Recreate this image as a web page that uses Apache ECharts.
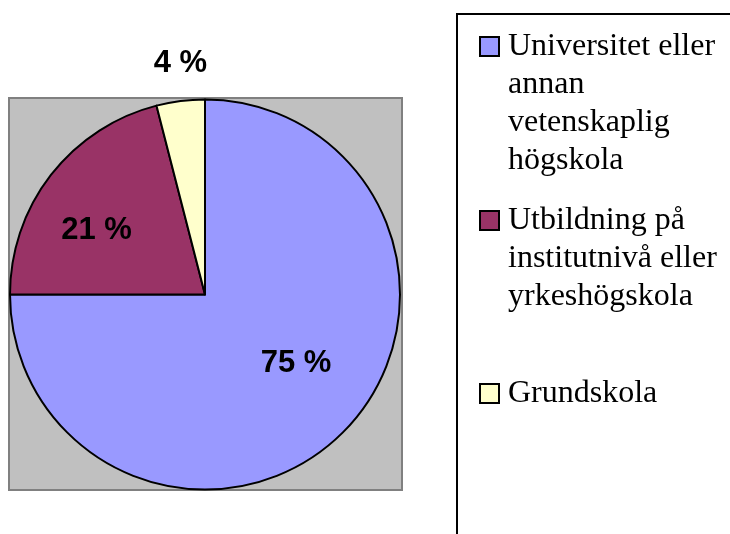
<!DOCTYPE html>
<html>
<head>
<meta charset="utf-8">
<script src="https://cdn.jsdelivr.net/npm/echarts@6/dist/echarts.min.js"></script>
<style>
  html, body { margin: 0; padding: 0; background: #fff; }
  #main { width: 730px; height: 534px; }
</style>
</head>
<body>
<div id="main"></div>
<script>
// data
var categories = ['Universitet eller\nannan\nvetenskaplig\nhögskola', 'Utbildning på\ninstitutnivå eller\nyrkeshögskola', 'Grundskola'];
var values = [75, 21, 4];
var colors = ['#9999FF', '#993366', '#FFFFCC'];

// label nudges (Excel puts the labels a bit off the slice middle)
var labelShift = [[20, -2], [-29, -2], [-12, -131]];
var legendTops = [28, 202, 375];

var myChart = echarts.init(document.getElementById('main'));

var graphics = [
  {
    type: 'rect', z: 0,
    shape: { x: 9, y: 98, width: 393, height: 392 },
    style: { fill: '#C0C0C0', stroke: '#808080', lineWidth: 2 }
  },
  {
    type: 'rect', z: 0,
    shape: { x: 457, y: 14, width: 300, height: 540 },
    style: { fill: '#fff', stroke: '#000', lineWidth: 2 }
  }
];
categories.forEach(function (name, i) {
  graphics.push({
    type: 'rect', z: 1,
    shape: { x: 480, y: legendTops[i] + 9, width: 19, height: 19 },
    style: { fill: colors[i], stroke: '#000', lineWidth: 2 }
  });
  graphics.push({
    type: 'text', z: 1, x: 508, y: legendTops[i],
    style: {
      text: name,
      fontFamily: 'Liberation Serif', fontSize: 32, lineHeight: 38,
      fill: '#000'
    }
  });
});

var option = {
  animation: false,
  graphic: graphics,
  series: [
    {
      type: 'pie',
      z: 2,
      center: [205, 294.5],
      radius: 195,
      startAngle: 90,
      clockwise: true,
      avoidLabelOverlap: false,
      emphasis: { disabled: true },
      itemStyle: { borderColor: '#000', borderWidth: 2 },
      label: {
        show: true,
        position: 'inside',
        formatter: '{c} %',
        color: '#000',
        fontFamily: 'Liberation Sans',
        fontWeight: 'bold',
        fontSize: 31
      },
      labelLine: { show: false },
      labelLayout: function (params) {
        var s = labelShift[params.dataIndex];
        return { dx: s[0], dy: s[1] };
      },
      data: categories.map(function (name, i) {
        return { name: name, value: values[i], itemStyle: { color: colors[i] } };
      })
    }
  ]
};

myChart.setOption(option);
</script>
</body>
</html>
